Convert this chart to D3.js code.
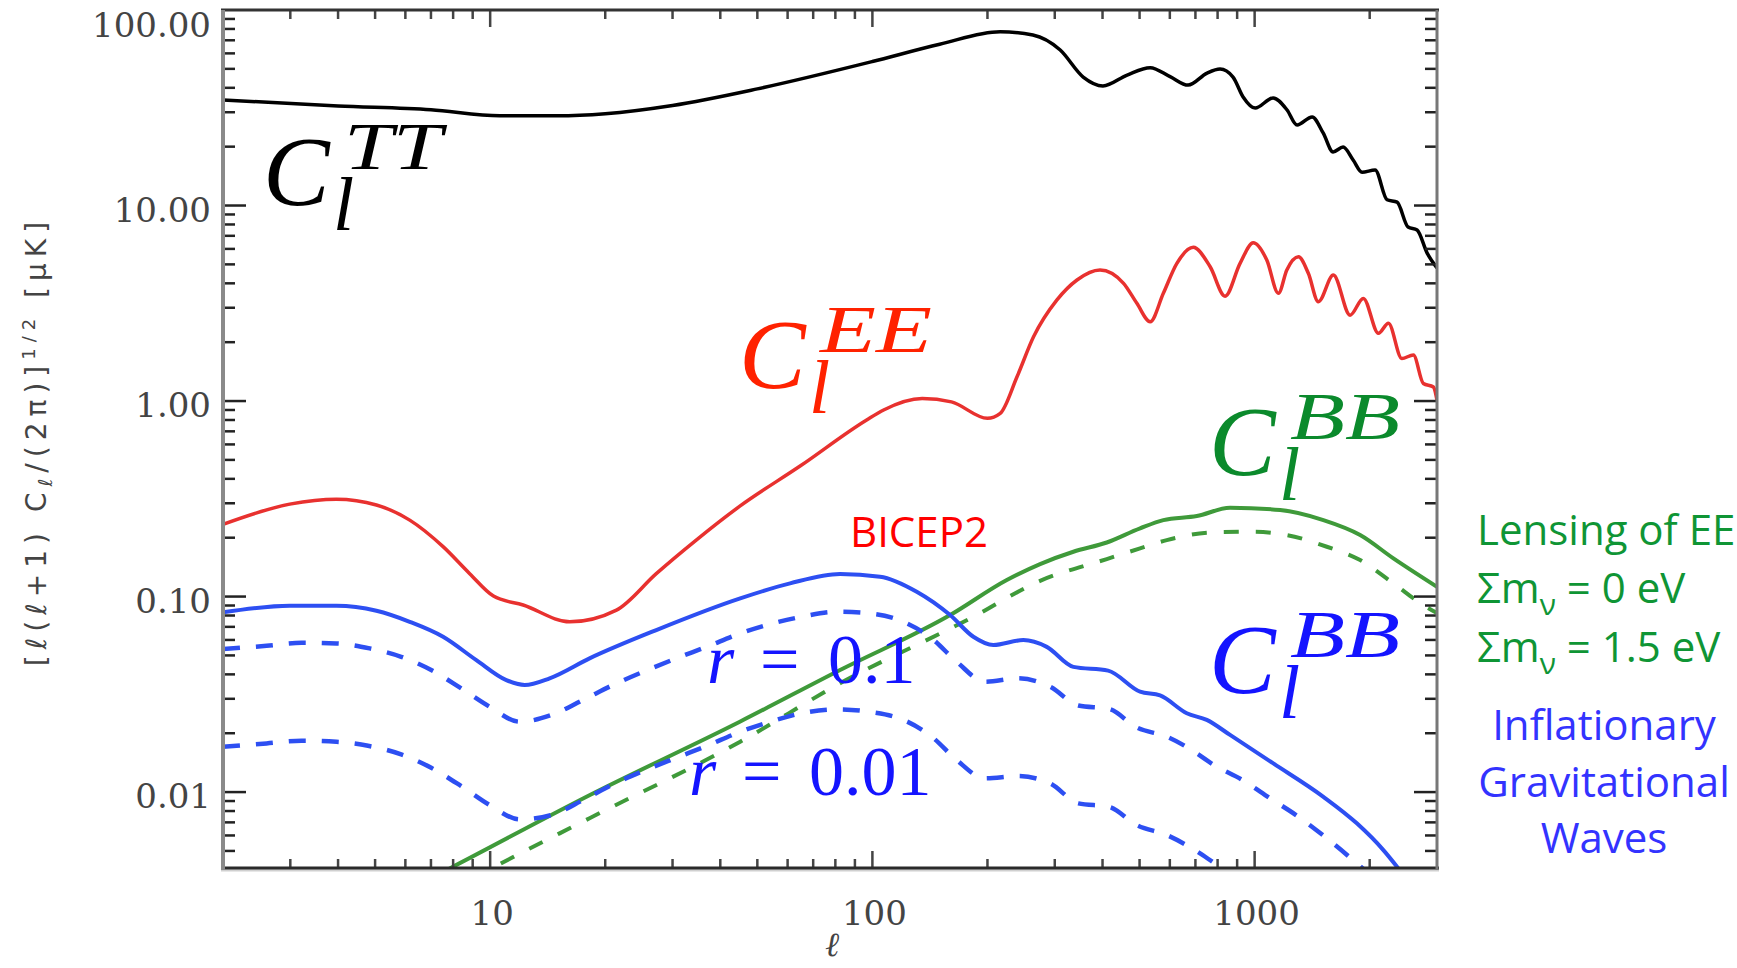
<!DOCTYPE html>
<html>
<head>
<meta charset="utf-8">
<script src="https://cdn.jsdelivr.net/npm/d3@7"></script>
<style>
  body { margin: 0; background: #fff; }
  svg { display: block; }
</style>
</head>
<body>
<svg id="chart" width="1737" height="968"></svg>
<script>
// --- data (multipole l, amplitude in uK) ---
const ttL = [2, 4, 7, 10.6, 15, 20, 30, 50, 100, 150, 216, 263, 310, 356, 401, 464, 533, 601, 670, 751, 812, 878, 933, 1003, 1118, 1216, 1291, 1414, 1511, 1604, 1704, 1810, 1910, 2066, 2221, 2359, 2520, 2661, 2827, 3000];
const ttV = [34.7, 32.3, 30.9, 28.8, 28.8, 29.5, 32.5, 39.5, 54.5, 66.8, 77.4, 74.5, 62.4, 45.4, 40.9, 46.5, 50.7, 45.6, 41.3, 47.6, 49.9, 45.4, 35.9, 31.5, 35.5, 30.8, 25.8, 28.4, 23.5, 18.8, 19.9, 17.1, 14.8, 15.2, 10.7, 10.4, 7.76, 7.49, 5.71, 4.79];

const eeL = [2, 2.99, 3.96, 5.04, 6.16, 7.53, 8.84, 10.2, 12.2, 16.15, 21.4, 27.2, 34.6, 45, 64.7, 96.6, 107, 135, 161, 200, 216, 239, 264, 304, 343, 394, 454, 492, 533, 577, 626, 691, 765, 837, 916, 992, 1076, 1154, 1214, 1302, 1382, 1468, 1607, 1777, 1925, 2108, 2239, 2427, 2602, 2763, 2936, 3000];
const eeV = [0.234, 0.297, 0.315, 0.294, 0.246, 0.18, 0.131, 0.1006, 0.0905, 0.0743, 0.0853, 0.131, 0.1945, 0.29, 0.465, 0.8, 0.9, 1.03, 0.99, 0.816, 0.865, 1.331, 2.13, 3.29, 4.16, 4.68, 4.0, 3.16, 2.545, 3.555, 5.06, 6.11, 4.86, 3.44, 5.06, 6.45, 5.26, 3.555, 4.68, 5.47, 4.5, 3.22, 4.41, 2.75, 3.35, 2.22, 2.5, 1.65, 1.72, 1.23, 1.18, 1.01];

// BB total, r = 0.1 (solid blue)
const bbL = [2, 2.99, 3.96, 5.04, 6.16, 7.53, 9.2, 11.02, 12.31, 14.31, 18.2, 27.2, 45.1, 60.9, 82.3, 104.7, 130.6, 159.7, 183.7, 207.2, 248.3, 285.9, 335.6, 413.6, 501.5, 565.7, 664.5, 749.5, 862.4, 1119, 1513, 1851, 2172, 2377];
const bbV = [0.083, 0.0897, 0.0897, 0.0846, 0.0743, 0.0623, 0.0473, 0.0374, 0.0353, 0.0382, 0.0483, 0.0674, 0.0979, 0.1168, 0.1303, 0.1263, 0.1058, 0.0804, 0.0623, 0.0565, 0.0599, 0.0553, 0.0437, 0.0418, 0.0326, 0.0312, 0.0253, 0.0234, 0.0196, 0.01402, 0.00946, 0.00692, 0.00505, 0.00407];

// tensor BB, r = 0.1 (dashed blue)
const r01L = [2, 2.6, 3.21, 3.96, 4.84, 5.85, 7.01, 8.4, 9.97, 11.95, 14.45, 17.5, 20.96, 25.1, 30.7, 36.8, 45.1, 54, 65.3, 80.7, 98.6, 120.5, 143, 166.2, 197.1, 240.9, 291.6, 345.8, 416, 491.5, 589, 709, 776, 930, 1098, 1302, 1545, 1851, 2005];
const r01V = [0.0539, 0.056, 0.058, 0.0576, 0.0543, 0.0492, 0.0421, 0.0339, 0.0273, 0.0229, 0.0248, 0.0296, 0.0353, 0.0412, 0.0483, 0.0553, 0.0648, 0.0723, 0.0788, 0.0836, 0.082, 0.0743, 0.0611, 0.0464, 0.0367, 0.0382, 0.0346, 0.0277, 0.0266, 0.0214, 0.0192, 0.0157, 0.0139, 0.01152, 0.00929, 0.00748, 0.0058, 0.00432, 0.00377];

// tensor BB, r = 0.01 (dashed blue)
const r001L = [2, 2.6, 3.21, 3.96, 4.79, 5.85, 7.01, 8.4, 9.97, 11.95, 14.45, 17.5, 20.96, 25.1, 30.7, 36.8, 45.1, 54, 65.3, 80.7, 98.6, 120.5, 143, 166.2, 197.1, 240.9, 291.6, 345.8, 416, 491.5, 589, 709, 812, 889];
const r001V = [0.01705, 0.01774, 0.0183, 0.01809, 0.01725, 0.01559, 0.01331, 0.01073, 0.00858, 0.00725, 0.00763, 0.0091, 0.01095, 0.0128, 0.01498, 0.0172, 0.02034, 0.0229, 0.0253, 0.0265, 0.0257, 0.0234, 0.0192, 0.01458, 0.01175, 0.01207, 0.01108, 0.00876, 0.00841, 0.00678, 0.00603, 0.00495, 0.00415, 0.00376];

// lensing BB, sum m_nu = 0 eV (solid green) and 1.5 eV (dashed green)
const lens0L = [7, 7.84, 18.24, 45, 82.3, 159.7, 224.7, 274.6, 335.6, 410.4, 501.5, 577, 705.8, 862.4, 1166, 1513, 1888, 2307, 3000];
const lens0V = [0.00363, 0.00407, 0.00966, 0.0229, 0.0421, 0.0804, 0.1215, 0.1466, 0.1695, 0.189, 0.2233, 0.246, 0.258, 0.2846, 0.277, 0.246, 0.2064, 0.1568, 0.1122];
const lens15L = [9, 10.28, 18.2, 45.1, 82.3, 183.7, 274.6, 410.4, 501.5, 589, 764.6, 992.4, 1214, 1545, 1888, 2307, 2763, 3000];
const lens15V = [0.0036, 0.00415, 0.00735, 0.0181, 0.036, 0.0788, 0.1203, 0.1555, 0.1764, 0.1945, 0.2126, 0.2146, 0.2064, 0.1798, 0.1537, 0.1168, 0.0905, 0.0823];

const yTickValues = [100, 10, 1, 0.1, 0.01];
const xTickValues = [10, 100, 1000];

// --- layout ---
const svg = d3.select("#chart");
const plot = { left: 223, right: 1437, top: 10, bottom: 868 };

const x = d3.scaleLog().domain([2, 3000]).range([plot.left, plot.right]);
const y = d3.scaleLog().domain([0.00409, 100]).range([plot.bottom, plot.top]);

svg.append("rect").attr("width", 1737).attr("height", 968).attr("fill", "#fff");

svg.append("defs").append("clipPath").attr("id", "plotClip")
  .append("rect")
  .attr("x", plot.left).attr("y", plot.top)
  .attr("width", plot.right - plot.left).attr("height", plot.bottom - plot.top);

const series = [
  { l: lens15L, v: lens15V, color: "#3f9a3a", width: 4, dash: "15,17" },
  { l: lens0L, v: lens0V, color: "#3f9a3a", width: 4, dash: null },
  { l: r001L, v: r001V, color: "#2d4ff2", width: 4.5, dash: "17,16" },
  { l: r01L, v: r01V, color: "#2d4ff2", width: 4.5, dash: "17,16" },
  { l: bbL, v: bbV, color: "#2d4ff2", width: 4, dash: null },
  { l: eeL, v: eeV, color: "#e8312f", width: 3.5, dash: null },
  { l: ttL, v: ttV, color: "#000", width: 3.5, dash: null },
];

const line = d3.line()
  .x((d) => x(d[0]))
  .y((d) => y(d[1]))
  .curve(d3.curveMonotoneX);

const curves = svg.append("g").attr("clip-path", "url(#plotClip)");
series.forEach((s) => {
  curves.append("path")
    .datum(d3.zip(s.l, s.v))
    .attr("d", line)
    .attr("fill", "none")
    .attr("stroke", s.color)
    .attr("stroke-width", s.width)
    .attr("stroke-dasharray", s.dash)
    .attr("stroke-linejoin", "round");
});

// --- frame and ticks ---
const isMajor = (v) => Math.abs(Math.log10(v) - Math.round(Math.log10(v))) < 1e-6;
const yTicks = y.ticks().filter((v) => v > 0.00409 && v < 100);
const xTicks = x.ticks().filter((v) => v > 2 && v < 3000);

const axes = svg.append("g");
axes.selectAll(".yl").data(yTicks).enter().append("line")
  .attr("x1", plot.left).attr("x2", (d) => plot.left + (isMajor(d) ? 23 : 12))
  .attr("y1", (d) => y(d)).attr("y2", (d) => y(d))
  .attr("stroke", "#222").attr("stroke-width", 2.5);
axes.selectAll(".yr").data(yTicks).enter().append("line")
  .attr("x1", plot.right).attr("x2", (d) => plot.right - (isMajor(d) ? 23 : 12))
  .attr("y1", (d) => y(d)).attr("y2", (d) => y(d))
  .attr("stroke", "#222").attr("stroke-width", 2.5);
axes.selectAll(".xb").data(xTicks).enter().append("line")
  .attr("x1", (d) => x(d)).attr("x2", (d) => x(d))
  .attr("y1", plot.bottom).attr("y2", (d) => plot.bottom - (isMajor(d) ? 17 : 9))
  .attr("stroke", "#444").attr("stroke-width", 2.5);
axes.selectAll(".xt").data(xTicks).enter().append("line")
  .attr("x1", (d) => x(d)).attr("x2", (d) => x(d))
  .attr("y1", plot.top).attr("y2", (d) => plot.top + (isMajor(d) ? 17 : 9))
  .attr("stroke", "#444").attr("stroke-width", 2.5);

// frame
axes.append("line").attr("x1", plot.left - 2).attr("x2", plot.right + 2)
  .attr("y1", plot.top).attr("y2", plot.top).attr("stroke", "#333").attr("stroke-width", 3);
axes.append("line").attr("x1", plot.left - 2).attr("x2", plot.right + 2)
  .attr("y1", plot.bottom + 2).attr("y2", plot.bottom + 2).attr("stroke", "#d0d0d0").attr("stroke-width", 3);
axes.append("line").attr("x1", plot.left - 2).attr("x2", plot.right + 2)
  .attr("y1", plot.bottom).attr("y2", plot.bottom).attr("stroke", "#2a2a2a").attr("stroke-width", 3);
axes.append("line").attr("x1", plot.left).attr("x2", plot.left)
  .attr("y1", plot.top).attr("y2", plot.bottom + 2).attr("stroke", "#8a8a8a").attr("stroke-width", 4);
axes.append("line").attr("x1", plot.right).attr("x2", plot.right)
  .attr("y1", plot.top).attr("y2", plot.bottom + 2).attr("stroke", "#777").attr("stroke-width", 3);

// tick labels
const fmt = d3.format(".2f");
svg.append("g").selectAll("text").data(yTickValues).enter().append("text")
  .attr("x", 211)
  .attr("y", (d) => Math.max(y(d) + 16, 37))
  .attr("text-anchor", "end")
  .style("font-family", "DejaVu Serif")
  .style("font-size", "34px")
  .attr("fill", "#444")
  .text((d) => fmt(d));

svg.append("g").selectAll("text").data(xTickValues).enter().append("text")
  .attr("x", (d) => x(d) + 2)
  .attr("y", 925)
  .attr("text-anchor", "middle")
  .style("font-family", "DejaVu Serif")
  .style("font-size", "34px")
  .attr("fill", "#444")
  .text((d) => d);

// axis titles
svg.append("text")
  .attr("x", 832).attr("y", 956)
  .attr("text-anchor", "middle")
  .style("font-family", "DejaVu Serif").style("font-style", "italic")
  .style("font-size", "34px").attr("fill", "#444")
  .text("ℓ");

const yTitle = svg.append("text")
  .attr("transform", "translate(46,441) rotate(-90)")
  .attr("text-anchor", "middle")
  .style("font-family", "DejaVu Sans")
  .style("font-size", "28px")
  .style("letter-spacing", "6px")
  .attr("fill", "#444");
yTitle.append("tspan").text("[ℓ(ℓ+1)  C");
yTitle.append("tspan").attr("dy", 6).style("font-size", "19px").text("ℓ");
yTitle.append("tspan").attr("dy", -6).text("/(2π)]");
yTitle.append("tspan").attr("dy", -11).style("font-size", "18px").text("1/2");
yTitle.append("tspan").attr("dy", 11).text(" [μK]");

// --- curve labels ---
function cLabel(cx, base, sup, supLen, color) {
  const g = svg.append("g").attr("fill", color)
    .style("font-family", "Liberation Serif").style("font-style", "italic");
  g.append("text").attr("x", cx).attr("y", base).style("font-size", "100px").text("C");
  g.append("text").attr("x", cx + 81).attr("y", base - 36).style("font-size", "68px")
    .attr("textLength", supLen).attr("lengthAdjust", "spacingAndGlyphs").text(sup);
  g.append("text").attr("x", cx + 70).attr("y", base + 25).style("font-size", "76px").text("l");
}
cLabel(263, 205, "TT", 98, "#000");
cLabel(739, 388, "EE", 112, "#ff2200");
cLabel(1209, 475, "BB", 110, "#0b8a2c");
cLabel(1209, 693, "BB", 110, "#1414ff");

function rLabel(xr, xeq, xnum, base, num) {
  const g = svg.append("g").attr("fill", "#1414ff")
    .style("font-family", "Liberation Serif").style("font-size", "70px");
  g.append("text").attr("x", xr).attr("y", base).style("font-style", "italic").text("r");
  g.append("text").attr("x", xeq).attr("y", base).text("=");
  g.append("text").attr("x", xnum).attr("y", base).text(num);
}
rLabel(707, 760, 828, 683, "0.1");
rLabel(689, 742, 809, 795, "0.01");

svg.append("text")
  .attr("x", 850).attr("y", 547)
  .style("font-family", "Open Sans").style("font-size", "42px")
  .attr("fill", "#ff0000")
  .text("BICEP2");

// right-hand notes
const side = svg.append("g").style("font-family", "Open Sans").style("font-size", "42px");
side.append("text").attr("x", 1477).attr("y", 545).attr("fill", "#0f9535").text("Lensing of EE");
[["0", 603], ["1.5", 662]].forEach(([m, base]) => {
  const t = side.append("text").attr("x", 1477).attr("y", base).attr("fill", "#0f9535");
  t.append("tspan").text("Σm");
  t.append("tspan").attr("dy", 12).style("font-size", "30px").text("ν");
  t.append("tspan").attr("dy", -12).text(" = " + m + " eV");
});
["Inflationary", "Gravitational", "Waves"].forEach((w, i) => {
  side.append("text").attr("x", 1604).attr("y", 740 + i * 56.5)
    .attr("text-anchor", "middle").attr("fill", "#3333ff").text(w);
});
</script>
</body>
</html>
